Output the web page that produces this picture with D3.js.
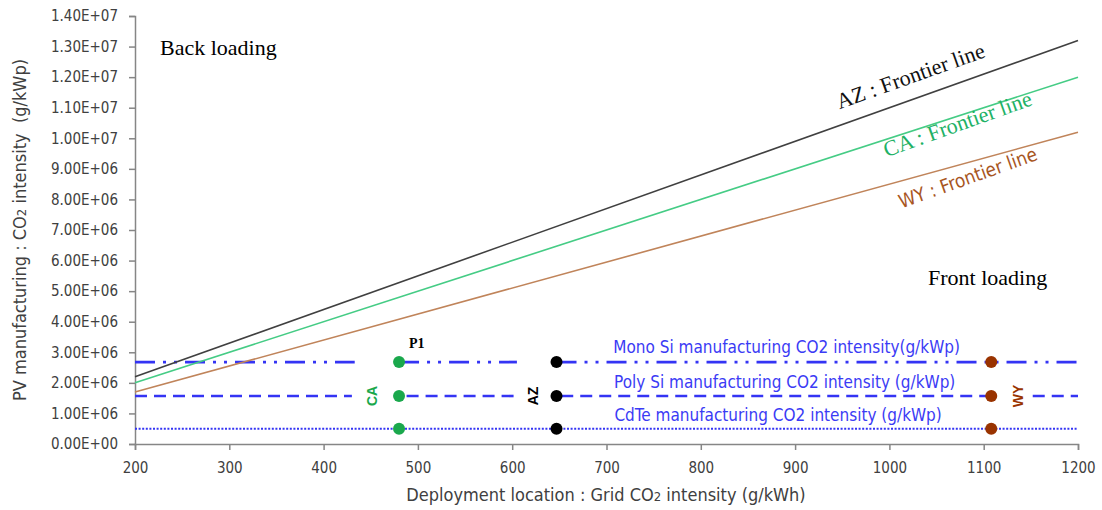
<!DOCTYPE html>
<html lang="en">
<head>
<meta charset="UTF-8">
<title>Frontier lines</title>
<script src="https://d3js.org/d3.v7.min.js"></script>
<style>
    body { margin: 0; background: #fff; }
    .axis text { font-family: "Liberation Sans Narrow", "DejaVu Sans Condensed", sans-serif; font-size: 15px; fill: #404040; }
    .axis path, .axis line { stroke: #868686; stroke-width: 1.5; }
    .title { font-family: "Liberation Sans Narrow", "DejaVu Sans Condensed", sans-serif; font-size: 18px; fill: #404040; }
    .serif { font-family: "Liberation Serif", serif; }
    .blue { font-family: "Liberation Sans Narrow", "DejaVu Sans Condensed", sans-serif; font-size: 17px; fill: #3b3bf5; }
</style>
</head>
<body>
<div id="chart"></div>
<script>
// data
var xTicks = [200, 300, 400, 500, 600, 700, 800, 900, 1000, 1100, 1200];
var yTicks = [0, 1e6, 2e6, 3e6, 4e6, 5e6, 6e6, 7e6, 8e6, 9e6, 1e7, 1.1e7, 1.2e7, 1.3e7, 1.4e7];
var yTickLabels = ["0.00E+00", "1.00E+06", "2.00E+06", "3.00E+06", "4.00E+06", "5.00E+06", "6.00E+06",
    "7.00E+06", "8.00E+06", "9.00E+06", "1.00E+07", "1.10E+07", "1.20E+07", "1.30E+07", "1.40E+07"];

var regions = ["AZ", "CA", "WY"];
var frontierX = [200, 1200];
var frontierAZ = [2.2e6, 1.32e7];
var frontierCA = [2.0e6, 1.2e7];
var frontierWY = [1.7e6, 1.02e7];

// grid intensity of each location (g/kWh)
var locationGrid = { CA: 480, AZ: 647, WY: 1108 };

// manufacturing intensity (g/kWp)
var techNames = ["Mono Si", "Poly Si", "CdTe"];
var techValues = [2.68e6, 1.57e6, 0.5e6];
var techLabels = ["Mono Si manufacturing CO2 intensity(g/kWp)",
    "Poly Si manufacturing CO2 intensity (g/kWp)",
    "CdTe manufacturing CO2 intensity (g/kWp)"];
var techLabelX = [891, 889, 882];
// visible pieces of each horizontal line (x ranges)
var techSegments = [
    [[200, 433], [480, 605], [647, 1200]],
    [[200, 430], [488, 605], [652, 1104], [1152, 1200]],
    [[200, 1200]]
];

var width = 1102, height = 510;
var svg = d3.select("#chart").append("svg")
    .attr("width", width)
    .attr("height", height);

var x = d3.scaleLinear().domain([200, 1200]).range([135, 1078]);
var y = d3.scaleLinear().domain([0, 1.4e7]).range([444, 16]);

// axes
svg.append("g")
    .attr("class", "axis")
    .attr("transform", "translate(0," + y(0) + ")")
    .call(d3.axisBottom(x).tickValues(xTicks).tickFormat(d3.format("d")).tickSizeOuter(0).tickSize(6).tickPadding(12));

svg.append("g")
    .attr("class", "axis")
    .attr("transform", "translate(" + x(200) + ",0)")
    .call(d3.axisLeft(y).tickValues(yTicks).tickFormat(function(d, i) { return yTickLabels[i]; })
        .tickSizeOuter(0).tickSize(6).tickPadding(11));

// axis titles
svg.append("text")
    .attr("class", "title")
    .attr("x", 606).attr("y", 501)
    .attr("text-anchor", "middle")
    .html("Deployment location : Grid CO<tspan font-size='13px'>2</tspan> intensity (g/kWh)");

svg.append("text")
    .attr("class", "title")
    .attr("transform", "translate(26,230) rotate(-90)")
    .attr("text-anchor", "middle")
    .html("PV manufacturing : CO<tspan font-size='13px'>2</tspan> intensity&#160;&#160;(g/kWp)");

// horizontal manufacturing lines
var dashes = ["20,8,3,8,3,8", "12,7", "2,1.6"];
var widths = [2.8, 2.6, 2];
techValues.forEach(function(v, i) {
    svg.selectAll(".seg" + i)
        .data(techSegments[i])
        .enter().append("line")
        .attr("x1", function(d) { return x(d[0]); })
        .attr("x2", function(d) { return x(d[1]); })
        .attr("y1", y(v))
        .attr("y2", y(v))
        .attr("stroke", "#3434f4")
        .attr("stroke-width", widths[i])
        .attr("stroke-dasharray", dashes[i]);
});

// tech labels
var labelDy = [-9, -8, -8];
techLabels.forEach(function(t, i) {
    svg.append("text")
        .attr("class", "blue")
        .attr("x", x(techLabelX[i]))
        .attr("y", y(techValues[i]) + labelDy[i])
        .attr("text-anchor", "middle")
        .text(t);
});

// frontier lines
var frontierColors = { AZ: "#404040", CA: "#45cc85", WY: "#c0845a" };
var labelColors = { AZ: "#111111", CA: "#21b165", WY: "#a8561f" };
var labelFonts = { AZ: "Liberation Serif, serif", CA: "Liberation Serif, serif", WY: "DejaVu Sans Condensed, sans-serif" };
var frontierData = { AZ: frontierAZ, CA: frontierCA, WY: frontierWY };
var line = d3.line().x(function(d) { return x(d[0]); }).y(function(d) { return y(d[1]); });

regions.forEach(function(r) {
    var pts = frontierX.map(function(xv, i) { return [xv, frontierData[r][i]]; });
    svg.append("path")
        .attr("d", line(pts))
        .attr("fill", "none")
        .attr("stroke", frontierColors[r])
        .attr("stroke-width", 1.6);
});

// labels along the lines
var angle = Math.atan2(y(frontierAZ[1]) - y(frontierAZ[0]), x(1200) - x(200)) * 180 / Math.PI;
var frontierLabelPos = { AZ: [913, 83], CA: [960, 131], WY: [970, 184] };
var frontierLabelSize = { AZ: "22px", CA: "22px", WY: "19px" };
regions.forEach(function(r) {
    var p = frontierLabelPos[r];
    svg.append("text")
        .attr("transform", "translate(" + p[0] + "," + p[1] + ") rotate(" + angle + ")")
        .attr("text-anchor", "middle")
        .attr("font-family", labelFonts[r])
        .attr("font-size", frontierLabelSize[r])
        .attr("fill", labelColors[r])
        .text(r + " : Frontier line");
});

// location dots
var dotColors = { CA: "#1aa84c", AZ: "#000000", WY: "#993300" };
["CA", "AZ", "WY"].forEach(function(r) {
    svg.selectAll(".dot" + r)
        .data(techValues)
        .enter().append("circle")
        .attr("cx", x(locationGrid[r]))
        .attr("cy", function(d) { return y(d); })
        .attr("r", 6)
        .attr("fill", dotColors[r]);
});

// rotated location labels
var locLabelOffset = { CA: -27, AZ: -23, WY: 27 };
["CA", "AZ", "WY"].forEach(function(r) {
    svg.append("text")
        .attr("transform", "translate(" + (x(locationGrid[r]) + locLabelOffset[r]) + "," + y(techValues[1]) + ") rotate(-90)")
        .attr("text-anchor", "middle")
        .attr("dy", "0.35em")
        .attr("font-family", "Liberation Sans, sans-serif")
        .attr("font-weight", "bold")
        .attr("font-size", "14px")
        .attr("fill", dotColors[r])
        .text(r);
});

// P1
svg.append("text")
    .attr("class", "serif")
    .attr("x", x(locationGrid.CA) + 10)
    .attr("y", y(techValues[0]) - 14)
    .attr("font-weight", "bold")
    .attr("font-size", "14px")
    .text("P1");

// region notes
svg.append("text").attr("class", "serif")
    .attr("x", 160).attr("y", 55)
    .attr("font-size", "22px")
    .text("Back loading");

svg.append("text").attr("class", "serif")
    .attr("x", 928).attr("y", 285)
    .attr("font-size", "22px")
    .text("Front loading");
</script>
</body>
</html>
